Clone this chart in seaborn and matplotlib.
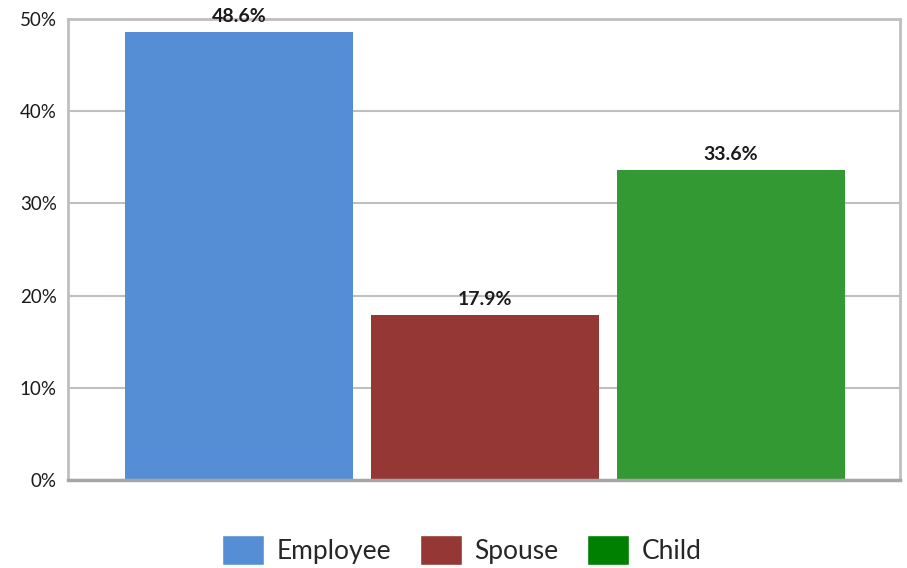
import numpy as np
import pandas as pd
import seaborn as sns
import matplotlib.pyplot as plt
from matplotlib.patches import Patch
from matplotlib.ticker import PercentFormatter

# data
groups = ['Employee', 'Spouse', 'Child']
shares = [48.6, 17.9, 33.6]
bar_colors = ['#558ED5', '#953735', '#339933']
legend_colors = ['#558ED5', '#953735', '#008000']

df = pd.DataFrame({'group': groups, 'share': shares})

sns.set_style('white')
plt.rcParams['font.family'] = ['Lato', 'DejaVu Sans']

fig = plt.figure(figsize=(9.07, 5.68), dpi=100)
ax = fig.add_axes([0.075, 0.155, 0.9173, 0.8115])

sns.barplot(data=df, x='group', y='share', hue='group', palette=bar_colors,
            width=0.927, legend=False, saturation=1, linewidth=0, ax=ax)

ax.set_xlim(-0.695, 2.687)
ax.set_ylim(0, 50)
ax.set_yticks(np.arange(0, 51, 10))
ax.yaxis.set_major_formatter(PercentFormatter(decimals=0))
ax.set_xticks([])
ax.set_xlabel('')
ax.set_ylabel('')
ax.tick_params(axis='y', length=0, pad=8, labelsize=13.5, colors='#1a1a1a')

ax.grid(axis='y', color='#BFBFBF', linewidth=1.5)
ax.set_axisbelow(True)
for side in ['left', 'top', 'right']:
    ax.spines[side].set_color('#BFBFBF')
    ax.spines[side].set_linewidth(2)
ax.spines['bottom'].set_color('#A6A6A6')
ax.spines['bottom'].set_linewidth(2.5)

for cont in ax.containers:
    ax.bar_label(cont, labels=[f'{v:.1f}%' for v in cont.datavalues],
                 padding=5, fontsize=14, fontweight='bold', color='#1a1a1a')

handles = [Patch(facecolor=c, label=g) for g, c in zip(groups, legend_colors)]
fig.legend(handles=handles, loc='center', bbox_to_anchor=(0.509, 0.032), ncol=3,
           frameon=False, fontsize=19, handlelength=1.6, handleheight=1.4,
           handletextpad=0.45, columnspacing=1.1)

fig.savefig('out.png', dpi=100)
